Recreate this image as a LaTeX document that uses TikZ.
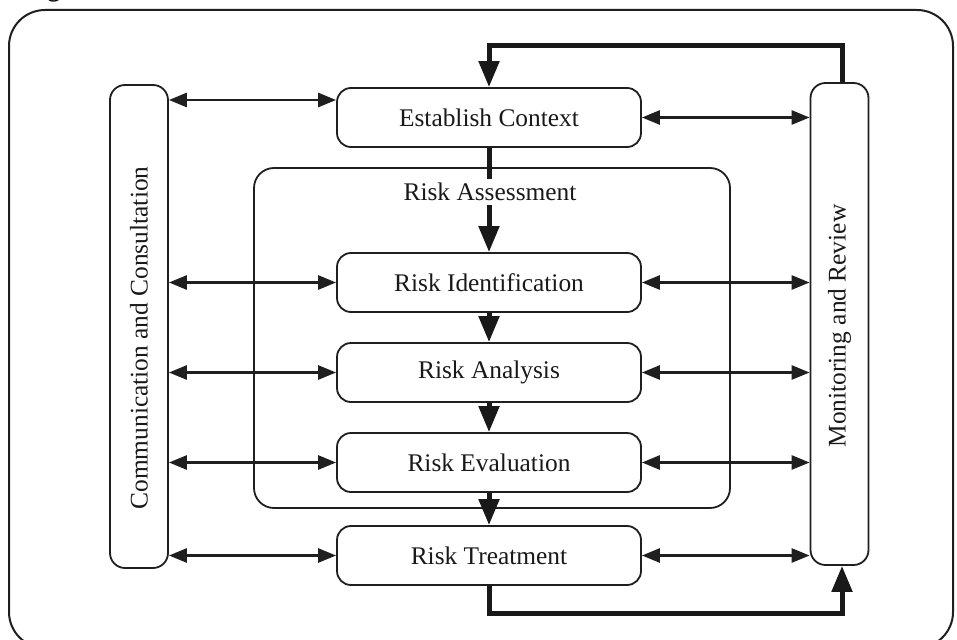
\documentclass[tikz,border=0pt]{standalone}
\usepackage{fontspec}
\setmainfont{Liberation Serif}
\usetikzlibrary{arrows.meta,calc}
\begin{document}
\begin{tikzpicture}[x=1pt,y=-1pt,
  txt/.style={font=\fontsize{25.4}{30}\selectfont, text=black!90},
  box/.style={draw=black!88, line width=1.8pt, rounded corners=14pt,
    minimum width=304pt, minimum height=59pt, inner sep=0pt, txt},
  sidebox/.style={draw=black!88, line width=1.8pt, rounded corners=15pt,
    inner sep=0pt, minimum width=58pt},
  dbl/.style={line width=2.7pt, draw=black!88,
    {Triangle[length=18pt,width=14pt]}-{Triangle[length=18pt,width=14pt]}},
  flowline/.style={line width=5pt, draw=black!90},
  flow/.style={flowline, -{Triangle[length=26pt,width=20pt]}},
]
\useasboundingbox (0,0) rectangle (957,639);

% cut-off caption fragment
\node[anchor=base, font=\bfseries\fontsize{25.4}{30}\selectfont, inner sep=0pt] (cap) at (54,-3) {g};

% outer frame
\draw[draw=black!88, line width=2pt, rounded corners=36pt] (9,10) rectangle (953,648);

% risk assessment container
\node[draw=black!88, line width=1.8pt, rounded corners=20pt, minimum width=476pt,
  minimum height=340pt, inner sep=0pt] (ra) at (492,338) {};
\node[txt, inner sep=4pt] (ralabel) at (490,192) {Risk Assessment};

% side boxes
\node[sidebox, minimum height=483pt] (comm) at (139,326.5) {};
\node[txt, rotate=90] (commtext) at (139,338) {Communication and Consultation};
\node[sidebox, minimum height=482pt] (mr) at (839.5,324) {};
\node[txt, rotate=90] (mrtext) at (839.5,326) {Monitoring and Review};

% process boxes
\node[box] (ec)  at (489,117.5) {Establish Context};
\node[box] (ri)  at (489,282.5) {Risk Identification};
\node[box] (ran) at (489,372.5) {Risk Analysis};
\node[box] (rev) at (489,462.5) {Risk Evaluation};
\node[box] (rt)  at (489,555.5) {Risk Treatment};

% double arrows
\coordinate (lt) at (0,100);
\draw[dbl] (comm.east |- lt) -- (ec.west |- lt);
\draw[dbl] (ec.east) -- (mr.west |- ec.east);
\foreach \n in {ri,ran,rev,rt}{
  \draw[dbl] (comm.east |- \n.west) -- (\n.west);
  \draw[dbl] (\n.east) -- (mr.west |- \n.east);
}

% main flow
\draw[flowline] (ec.south) -- (ec.south |- ralabel.north);
\draw[flow] (ri.north |- ralabel.south) -- (ri.north);
\draw[flow] (ri.south) -- (ran.north);
\draw[flow] (ran.south) -- (rev.north);
\draw[flow] (rev.south) -- (rt.north);

% feedback loops
\coordinate (top) at (0,46);
\coordinate (bot) at (0,613);
\draw[flow] ($(mr.north)+(2.5,0)$) -- ($(mr.north |- top)+(2.5,0)$) -| (ec.north);
\draw[flow] (rt.south) -- (rt.south |- bot) -| ($(mr.south)+(2.5,0)$);
\end{tikzpicture}
\end{document}
